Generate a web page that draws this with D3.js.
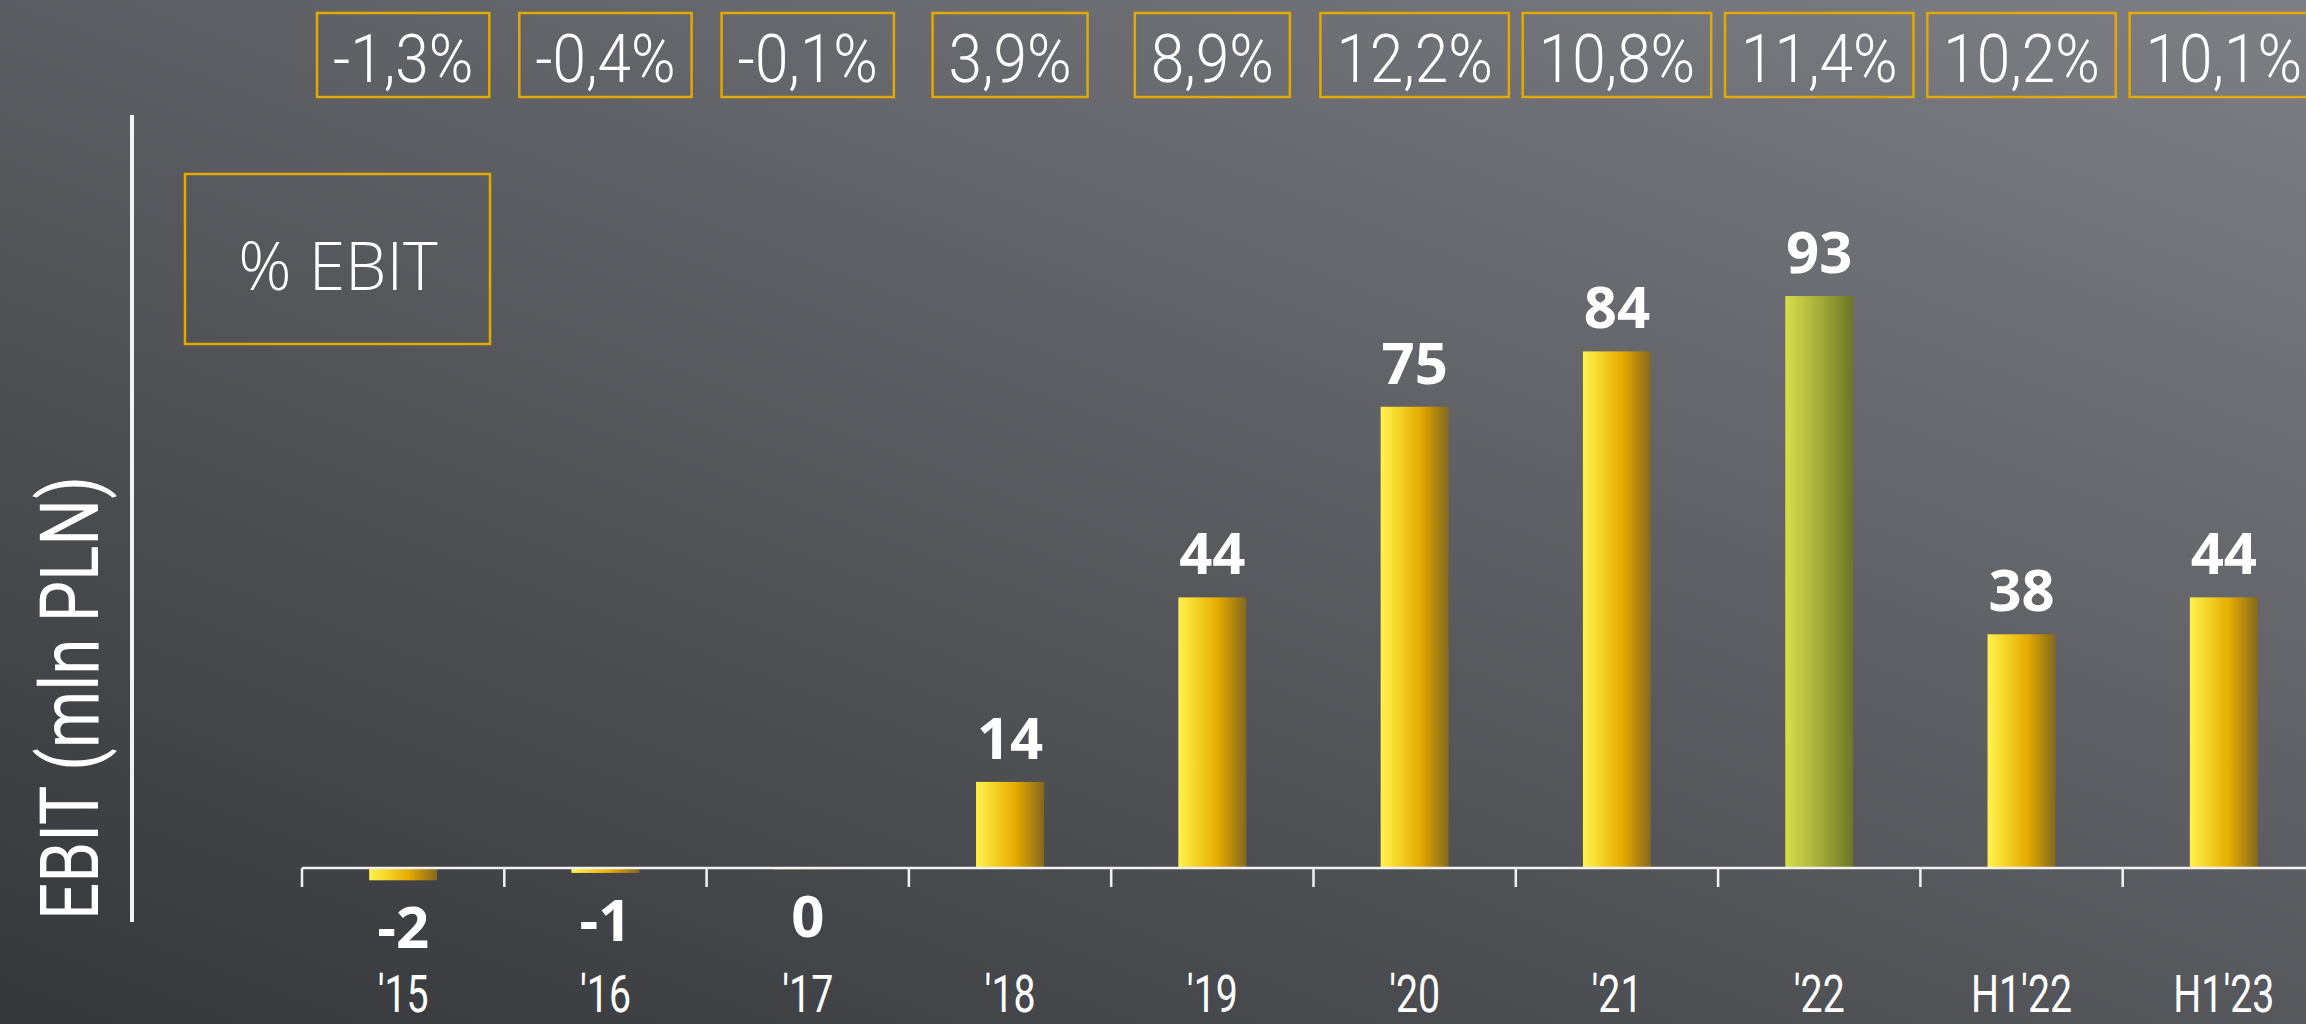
<!DOCTYPE html>
<html>
<head>
<meta charset="utf-8">
<script src="https://cdn.jsdelivr.net/npm/d3@7"></script>
<style>
  html, body { margin: 0; padding: 0; background: #4a4b50; overflow: hidden; }
  svg { display: block; }
  .cond { font-family: "Roboto", "Liberation Sans", sans-serif; font-weight: 300; }
  .cond4 { font-family: "Roboto", "Liberation Sans", sans-serif; font-weight: 400; }
  .bold { font-family: "Open Sans", "Noto Sans", sans-serif; font-weight: 700; }
  .reg { font-family: "Open Sans", "Noto Sans", sans-serif; font-weight: 300; }
</style>
</head>
<body>
<svg id="chart" width="2306" height="1024"></svg>
<script>
// ---- data ----
const categories = ["'15", "'16", "'17", "'18", "'19", "'20", "'21", "'22", "H1'22", "H1'23"];
const ebit = [-2.0, -0.8, -0.2, 14, 44, 75, 84, 93, 38, 44];
const ebitMargin = [-1.3, -0.4, -0.1, 3.9, 8.9, 12.2, 10.8, 11.4, 10.2, 10.1];
const highlighted = ["'22"];
const yTitle = "EBIT (mln PLN)";
const marginTitle = "% EBIT";

// ---- layout ----
const W = 2306, H = 1024;
const svg = d3.select("#chart");
const defs = svg.append("defs");

const bg = defs.append("linearGradient").attr("id", "bg")
  .attr("gradientUnits", "userSpaceOnUse")
  .attr("x1", 0).attr("y1", 1024).attr("x2", 628).attr("y2", -634);
bg.append("stop").attr("offset", "0%").attr("stop-color", "#35363a");
bg.append("stop").attr("offset", "100%").attr("stop-color", "#7e7f84");

const gold = defs.append("linearGradient").attr("id", "gold")
  .attr("x1", "0%").attr("x2", "100%").attr("y1", "0%").attr("y2", "0%");
gold.append("stop").attr("offset", "0%").attr("stop-color", "#fff24f");
gold.append("stop").attr("offset", "30%").attr("stop-color", "#f3cf22");
gold.append("stop").attr("offset", "58%").attr("stop-color", "#e5ab00");
gold.append("stop").attr("offset", "100%").attr("stop-color", "#84681f");

const olive = defs.append("linearGradient").attr("id", "olive")
  .attr("x1", "0%").attr("x2", "100%").attr("y1", "0%").attr("y2", "0%");
olive.append("stop").attr("offset", "0%").attr("stop-color", "#d8de4a");
olive.append("stop").attr("offset", "50%").attr("stop-color", "#a5ad38");
olive.append("stop").attr("offset", "100%").attr("stop-color", "#6c7526");

svg.append("rect").attr("width", W).attr("height", H).attr("fill", "url(#bg)");

const x = d3.scaleBand().domain(categories).range([302, 302 + 202.3 * categories.length]).padding(0);
const y = d3.scaleLinear().domain([0, 100]).range([868, 868 - 615]);
const barW = x.bandwidth() * 0.336;
const cx = c => x(c) + x.bandwidth() / 2;

const locale = d3.formatLocale({decimal: ",", thousands: " ", grouping: [3], currency: ["", ""], minus: "-"});
const fmtPct = v => locale.format(".1f")(v) + "%";
const fmtVal = v => String(Math.round(v));

// bars
svg.append("g").selectAll("rect").data(categories).join("rect")
  .attr("x", c => cx(c) - barW / 2)
  .attr("width", barW)
  .attr("y", (c, i) => y(Math.max(0, ebit[i])))
  .attr("height", (c, i) => Math.abs(y(ebit[i]) - y(0)))
  .attr("fill", c => highlighted.includes(c) ? "url(#olive)" : "url(#gold)");

// axis
const axis = svg.append("g").attr("stroke", "#f2f2f2");
axis.append("line").attr("x1", x.range()[0]).attr("x2", W).attr("y1", y(0)).attr("y2", y(0)).attr("stroke-width", 2.5);
axis.selectAll("line.tick").data(categories).join("line").attr("class", "tick")
  .attr("x1", c => x(c)).attr("x2", c => x(c))
  .attr("y1", y(0)).attr("y2", y(0) + 19).attr("stroke-width", 2.5);

// value labels
svg.append("g").selectAll("text").data(categories).join("text")
  .attr("class", "bold")
  .attr("x", c => cx(c))
  .attr("y", (c, i) => ebit[i] > 0 ? y(ebit[i]) - 23 : y(ebit[i]) + 68)
  .attr("text-anchor", "middle")
  .attr("font-size", 58)
  .attr("fill", "#ffffff")
  .text((c, i) => fmtVal(ebit[i]));

// category labels (condensed via horizontal scale)
svg.append("g").selectAll("text").data(categories).join("text")
  .attr("class", "cond4")
  .attr("transform", c => `translate(${cx(c)},1012) scale(0.77,1)`)
  .attr("text-anchor", "middle")
  .attr("font-size", 51)
  .attr("fill", "#ffffff")
  .text(c => c);

// percentage boxes
const pg = svg.append("g").selectAll("g").data(categories).join("g");
pg.append("text")
  .attr("class", "cond")
  .attr("transform", c => `translate(${cx(c)},82) scale(0.9,1)`)
  .attr("text-anchor", "middle")
  .attr("font-size", 67)
  .attr("fill", "#ffffff")
  .text((c, i) => fmtPct(ebitMargin[i]));
pg.each(function (c) {
  const g = d3.select(this);
  const t = g.select("text").node();
  const w = t.getComputedTextLength() * 0.9 + 32;
  g.insert("rect", "text")
    .attr("x", cx(c) - w / 2).attr("y", 13)
    .attr("width", w).attr("height", 84)
    .attr("fill", "none").attr("stroke", "#e2a900").attr("stroke-width", 2.5);
});

// "% EBIT" box
svg.append("rect").attr("x", 185).attr("y", 174).attr("width", 305).attr("height", 170)
  .attr("fill", "none").attr("stroke", "#e2a900").attr("stroke-width", 2.5);
svg.append("text").attr("class", "reg").attr("x", 338).attr("y", 290)
  .attr("text-anchor", "middle").attr("font-size", 66).attr("fill", "#ffffff").text(marginTitle);

// y title and line
svg.append("line").attr("x1", 132).attr("x2", 132).attr("y1", 115).attr("y2", 922)
  .attr("stroke", "#f2f2f2").attr("stroke-width", 4);
svg.append("text").attr("class", "cond4")
  .attr("transform", "translate(98,698) rotate(-90) scale(0.8,1)")
  .attr("text-anchor", "middle").attr("font-size", 82).attr("fill", "#ffffff").text(yTitle);
</script>
</body>
</html>
